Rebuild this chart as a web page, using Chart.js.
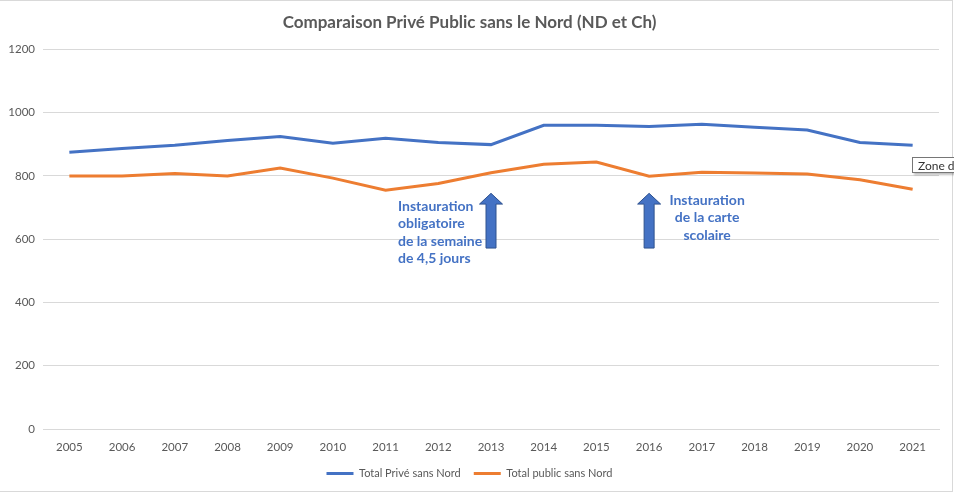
<!DOCTYPE html>
<html>
<head>
<meta charset="utf-8">
<script src="https://cdn.jsdelivr.net/npm/chart.js@4.4.0/dist/chart.umd.min.js"></script>
<style>
  body { margin: 0; background: #fff; }
  #wrap { position: relative; width: 954px; height: 493px; overflow: hidden; }
  #myChart { position: absolute; left: 0; top: 0; }
  #frame { position: absolute; left: 0; top: 0; width: 953px; height: 492px; box-sizing: border-box;
           border-top: 1px solid #d9d9d9; border-right: 1px solid #d9d9d9; border-bottom: 1px solid #d9d9d9; pointer-events: none; }
  #zone { position: absolute; left: 912px; top: 157px; height: 14px; line-height: 14px; padding: 0 4px 0 5px;
          background: #fff; border: 1px solid #767676; box-shadow: 2px 2px 2px rgba(0,0,0,0.25);
          font: 12px Lato, sans-serif; color: #333; white-space: nowrap; }
</style>
</head>
<body>
<div id="wrap">
  <canvas id="myChart" width="954" height="493"></canvas>
  <div id="frame"></div>
  <div id="zone">Zone de graphique</div>
</div>
<script>
const years = ['2005', '2006', '2007', '2008', '2009', '2010', '2011', '2012', '2013',
               '2014', '2015', '2016', '2017', '2018', '2019', '2020', '2021'];
const totalPrive = [875, 887, 897, 912, 925, 903, 919, 906, 899, 960, 960, 956, 963, 954, 945, 906, 897];
const totalPublic = [800, 800, 808, 800, 825, 793, 755, 776, 810, 837, 844, 799, 812, 809, 806, 788, 758];
const yTicks = [0, 200, 400, 600, 800, 1000, 1200];

// annotations : année de la flèche + lignes de texte
const notes = [
    { year: '2013', lines: ['Instauration', 'obligatoire', 'de la semaine', 'de 4,5 jours'], dx: -93, align: 'left', y0: 206 },
    { year: '2016', lines: ['Instauration', 'de la carte', 'scolaire'], dx: 58, align: 'center', y0: 200 }
];

const blue = '#4472C4';
const orange = '#ED7D31';
const grey = '#595959';

// dessine les flèches et les textes
const notesPlugin = {
    id: 'notes',
    afterDatasetsDraw(chart) {
        const ctx = chart.ctx;
        const xs = chart.scales.x;
        const ys = chart.scales.y;
        ctx.save();
        notes.forEach(n => {
            const cx = xs.getPixelForValue(years.indexOf(n.year));
            const top = ys.getPixelForValue(745);
            const neck = ys.getPixelForValue(711);
            const bottom = ys.getPixelForValue(572);
            ctx.beginPath();
            ctx.moveTo(cx, top);
            ctx.lineTo(cx + 11.5, neck);
            ctx.lineTo(cx + 5, neck);
            ctx.lineTo(cx + 5, bottom);
            ctx.lineTo(cx - 5, bottom);
            ctx.lineTo(cx - 5, neck);
            ctx.lineTo(cx - 11.5, neck);
            ctx.closePath();
            ctx.fillStyle = blue;
            ctx.fill();
            ctx.strokeStyle = '#2F528F';
            ctx.lineWidth = 1;
            ctx.stroke();

            ctx.fillStyle = blue;
            ctx.font = 'bold 14px Lato';
            ctx.textAlign = n.align;
            ctx.textBaseline = 'middle';
            n.lines.forEach((l, i) => {
                ctx.fillText(l, cx + n.dx, n.y0 + i * 17.5);
            });
        });
        ctx.restore();
    }
};

const ctx = document.getElementById('myChart').getContext('2d');
const myChart = new Chart(ctx, {
    type: 'line',
    data: {
        labels: years,
        datasets: [{
            label: 'Total Privé sans Nord',
            data: totalPrive,
            borderColor: blue,
            backgroundColor: blue,
            borderWidth: 3,
            pointRadius: 0,
            tension: 0
        }, {
            label: 'Total public sans Nord',
            data: totalPublic,
            borderColor: orange,
            backgroundColor: orange,
            borderWidth: 3,
            pointRadius: 0,
            tension: 0
        }]
    },
    options: {
        responsive: false,
        animation: false,
        events: [],
        layout: { padding: { left: 0, right: 15, top: 0, bottom: 4 } },
        plugins: {
            title: {
                display: true,
                text: 'Comparaison Privé Public sans le Nord (ND et Ch)',
                color: grey,
                font: { family: 'Lato', size: 17, weight: 'bold', lineHeight: 1.2 },
                padding: { top: 12, bottom: 17 }
            },
            legend: {
                position: 'bottom',
                labels: {
                    color: grey,
                    font: { family: 'Lato', size: 11 },
                    boxWidth: 27,
                    boxHeight: 3,
                    padding: 13,
                    generateLabels: chart => Chart.defaults.plugins.legend.labels.generateLabels(chart)
                        .map(l => Object.assign(l, { lineWidth: 0 }))
                }
            },
            tooltip: { enabled: false }
        },
        scales: {
            x: {
                offset: true,
                grid: { display: false },
                border: { color: '#d9d9d9' },
                ticks: { color: grey, font: { family: 'Lato', size: 11.5 }, padding: 3, maxRotation: 0 },
                afterFit: s => { s.height = 26; }
            },
            y: {
                min: 0,
                max: 1200,
                afterBuildTicks: s => { s.ticks = yTicks.map(v => ({ value: v })); },
                grid: { color: '#d9d9d9', drawTicks: false },
                border: { display: false },
                ticks: { color: grey, font: { family: 'Lato', size: 11.5 }, padding: 8, callback: v => String(v) },
                afterFit: s => { s.width = 43; }
            }
        }
    },
    plugins: [notesPlugin]
});
</script>
</body>
</html>
